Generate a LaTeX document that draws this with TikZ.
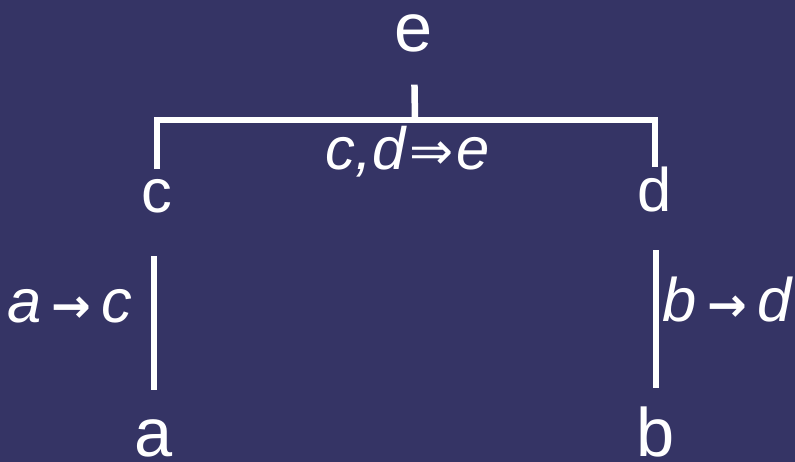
\documentclass[tikz,border=0pt]{standalone}
\usepackage{fontspec}
\setmainfont{Liberation Sans}
\newfontfamily\symfont{DejaVu Sans}
\definecolor{night}{HTML}{353465}
\tikzset{
  letter/.style={text=white,inner sep=0pt,anchor=base,font=\fontsize{35}{40}\selectfont},
  big/.style={letter,font=\fontsize{39}{44}\selectfont},
  rule/.style={text=white,inner sep=0pt,anchor=base,font=\fontsize{35}{40}\selectfont\itshape},
  bar/.style={draw=white,line width=3.7pt},
}
\newcommand{\ar}{\,{\symfont\bfseries\upshape\fontsize{27}{30}\selectfont →}\,}
\newcommand{\impl}{\kern2pt{\symfont\upshape\fontsize{30}{34}\selectfont ⇒}\kern2pt}

\begin{document}
\begin{tikzpicture}[x=0.02cm,y=-0.02cm]
  \fill[night] (0,0) rectangle (795,462);
  \useasboundingbox (0,0) rectangle (795,462);
  % premises and conclusion
  \node[big] (a) at (154,457){a}; \node[big] (b) at (656,457){b};
  \node[letter] (c) at (157,213){c}; \node[letter] (d) at (655,212){d};
  \node[big] (e) at (414,52){e};
  \coordinate (top) at (415,120);
  % rule names
  \node[rule] (ac) at (70,323){a\ar c};
  \node[rule] (bd) at (727,322){b\ar d};
  \node[rule,font=\fontsize{34}{38}\selectfont\itshape] (cde) at (408,170){c,d\impl e};
  % bars
  \draw[bar,shorten <=17pt,shorten >=24pt] (a.north)--(a.north |- c.south);
  \draw[bar,shorten <=11pt,shorten >=21pt] (b.north)--(b.north |- d.south);
  \draw[bar,shorten <=6pt] (c.north) |- (top) -| (d.north);
  \draw[bar,shorten <=18pt] (e.south)--(top);
\end{tikzpicture}
\end{document}
